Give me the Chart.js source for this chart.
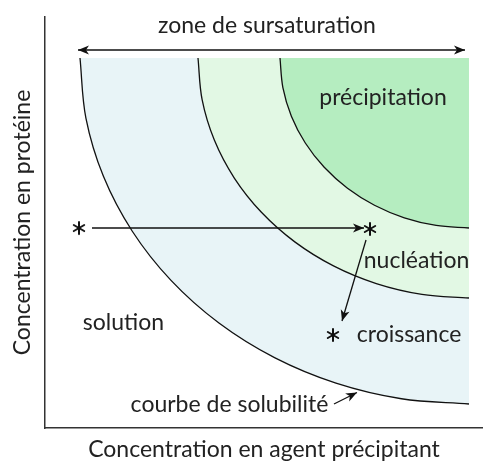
<!DOCTYPE html>
<html>
<head>
<meta charset="utf-8">
<script src="https://cdn.jsdelivr.net/npm/chart.js@4"></script>
<style>
html, body { margin: 0; padding: 0; background: #fff; }
canvas { display: block; }
</style>
</head>
<body>
<canvas id="chart" width="483" height="463"></canvas>
<script>
// courbes (unités arbitraires, 0 à 10 sur chaque axe)
const solubiliteX = [0.799, 0.934, 1.334, 1.989, 2.877, 3.971, 5.240, 6.643, 8.138, 9.680];
const solubiliteY = [9.002, 7.541, 6.123, 4.793, 3.591, 2.554, 1.712, 1.092, 0.712, 0.584];
const nucleationX = [3.493, 3.587, 3.866, 4.322, 4.941, 5.703, 6.586, 7.564, 8.606, 9.680];
const nucleationY = [9.002, 7.988, 7.005, 6.082, 5.249, 4.529, 3.945, 3.515, 3.252, 3.163];
const precipX = [5.365, 5.431, 5.625, 5.943, 6.375, 6.906, 7.522, 8.204, 8.931, 9.680];
const precipY = [9.002, 8.284, 7.587, 6.934, 6.343, 5.834, 5.420, 5.115, 4.929, 4.866];
const zoneTop = 9.002;

// flèches
const sursatX = [0.753, 9.589];
const sursatY = [9.197, 9.197];
const pathX = [1.073, 7.283];
const pathY = [4.866, 4.866];
const dropX = [7.329, 6.781];
const dropY = [4.574, 2.603];
const noteX = [6.598, 7.123];
const noteY = [0.584, 0.864];

// astérisques
const starX = [0.776, 7.420, 6.575];
const starY = [4.866, 4.842, 2.263];

// textes
const labelText = ["zone de sursaturation", "précipitation", "nucléation", "croissance", "solution", "courbe de solubilité"];
const labelX = [5.068, 7.717, 8.482, 8.311, 1.792, 4.212];
const labelY = [9.611, 7.859, 3.893, 2.092, 2.384, 0.389];

const FONT = "Lato";
const TXT = "#222";

function pts(xs, ys) {
    return xs.map((x, i) => ({x: x, y: ys[i]}));
}

// petit astérisque pour les points
const star = document.createElement("canvas");
star.width = 16; star.height = 16;
(function() {
    const c = star.getContext("2d");
    c.strokeStyle = "#111";
    c.lineWidth = 2;
    c.lineCap = "round";
    for (let k = 0; k < 3; k++) {
        const a = Math.PI / 2 + k * Math.PI / 3;
        c.beginPath();
        c.moveTo(8 - 6 * Math.cos(a), 8 - 6 * Math.sin(a));
        c.lineTo(8 + 6 * Math.cos(a), 8 + 6 * Math.sin(a));
        c.stroke();
    }
})();

function arc(data, color, order) {
    return {
        data: data,
        borderColor: "#111",
        borderWidth: 1.3,
        backgroundColor: color,
        fill: {value: zoneTop},
        pointRadius: 0,
        tension: 0.35,
        order: order
    };
}

function arrow(data, ends) {
    return {
        data: data,
        borderColor: "#111",
        borderWidth: 1.3,
        pointRadius: 0,
        fill: false,
        order: 0,
        arrows: ends
    };
}

const extras = {
    id: "extras",
    afterDatasetsDraw(chart) {
        const ctx = chart.ctx;
        const xs = chart.scales.x, ys = chart.scales.y;
        ctx.save();
        ctx.fillStyle = "#111";
        chart.data.datasets.forEach(ds => {
            if (!ds.arrows) return;
            const p = ds.data.map(d => ({x: xs.getPixelForValue(d.x), y: ys.getPixelForValue(d.y)}));
            ds.arrows.forEach(end => {
                const tip = end === "end" ? p[p.length - 1] : p[0];
                const from = end === "end" ? p[p.length - 2] : p[1];
                const a = Math.atan2(tip.y - from.y, tip.x - from.x);
                ctx.save();
                ctx.translate(tip.x, tip.y);
                ctx.rotate(a);
                ctx.beginPath();
                ctx.moveTo(0, 0);
                ctx.lineTo(-11, -4.5);
                ctx.lineTo(-8, 0);
                ctx.lineTo(-11, 4.5);
                ctx.closePath();
                ctx.fill();
                ctx.restore();
            });
        });
        ctx.fillStyle = TXT;
        ctx.font = "23px " + FONT;
        ctx.textAlign = "center";
        ctx.textBaseline = "alphabetic";
        labelText.forEach((t, i) => {
            ctx.fillText(t, xs.getPixelForValue(labelX[i]), ys.getPixelForValue(labelY[i]));
        });
        ctx.restore();
    }
};

const axisTitle = {size: 23, family: FONT, lineHeight: 1.2};

new Chart(document.getElementById("chart"), {
    type: "line",
    data: {
        datasets: [
            arc(pts(solubiliteX, solubiliteY), "#e8f4f7", 3),
            arc(pts(nucleationX, nucleationY), "#e2f8e4", 2),
            arc(pts(precipX, precipY), "#b5edc0", 1),
            arrow(pts(sursatX, sursatY), ["start", "end"]),
            arrow(pts(pathX, pathY), ["end"]),
            arrow(pts(dropX, dropY), ["end"]),
            arrow(pts(noteX, noteY), ["end"]),
            {
                data: pts(starX, starY),
                showLine: false,
                pointStyle: star,
                pointRadius: 8,
                order: 0
            }
        ]
    },
    options: {
        responsive: false,
        animation: false,
        layout: {autoPadding: false, padding: {top: 17, right: 0, bottom: 0, left: 0}},
        plugins: {
            legend: {display: false},
            tooltip: {enabled: false}
        },
        scales: {
            x: {
                type: "linear",
                min: 0, max: 10,
                grid: {display: false, drawTicks: false},
                ticks: {display: false},
                border: {display: true, color: "#333", width: 1.5},
                title: {
                    display: true,
                    text: "Concentration en agent précipitant",
                    color: TXT,
                    font: axisTitle,
                    padding: {top: 7.4, bottom: 0}
                }
            },
            y: {
                type: "linear",
                min: 0, max: 10,
                grid: {display: false, drawTicks: false},
                ticks: {display: false},
                border: {display: true, color: "#333", width: 1.5},
                title: {
                    display: true,
                    text: "Concentration en protéine",
                    color: TXT,
                    font: axisTitle,
                    padding: {top: 9, bottom: 8.4}
                }
            }
        }
    },
    plugins: [extras]
});
</script>
</body>
</html>
